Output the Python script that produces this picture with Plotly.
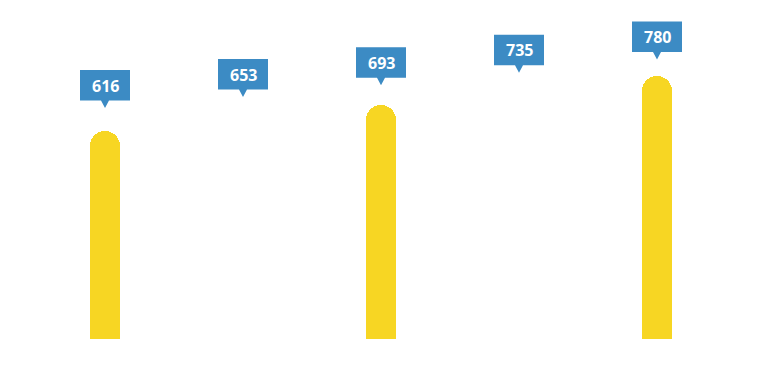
import plotly.graph_objects as go

categories = ["A", "B", "C", "D", "E"]
values = [616, 653, 693, 735, 780]
bar_visible = [True, False, True, False, True]

BAR_COLOR = "#F7D623"
LABEL_BG = "#3C8BC4"
HIDDEN = "rgba(0,0,0,0)"

xpos = list(range(len(categories)))

fig = go.Figure()
fig.add_trace(go.Bar(
    x=xpos, y=values, width=30 / 138,
    marker=dict(color=[BAR_COLOR if v else HIDDEN for v in bar_visible],
                cornerradius=15, line=dict(width=0)),
    hoverinfo="skip", showlegend=False,
))
# invisible helper on the label axis
fig.add_trace(go.Scatter(x=xpos, y=values, yaxis="y2", mode="markers",
                         marker=dict(opacity=0), hoverinfo="skip", showlegend=False))

for xi, v in zip(xpos, values):
    fig.add_shape(
        type="path", xref="x", yref="y2",
        xsizemode="pixel", ysizemode="pixel", xanchor=xi, yanchor=v,
        path="M -25,7.5 L -4,7.5 L 0,0 L 4,7.5 L 25,7.5 L 25,38 L -25,38 Z",
        fillcolor=LABEL_BG, line=dict(width=0), layer="above",
    )
    fig.add_annotation(
        x=xi, y=v, xref="x", yref="y2", yshift=22.5, showarrow=False,
        text=f"<b>{v}</b>", xanchor="center", yanchor="middle",
        font=dict(family="Open Sans", size=16, color="white"),
    )

fig.update_layout(
    width=762, height=368,
    margin=dict(l=36, r=36, t=10, b=29),
    paper_bgcolor="white", plot_bgcolor="white",
    xaxis=dict(range=[-0.5, 4.5], visible=False, showgrid=False, zeroline=False),
    yaxis=dict(range=[0, 974.5], visible=False, showgrid=False, zeroline=False),
    yaxis2=dict(range=[-162.9, 946.7], overlaying="y", visible=False,
                showgrid=False, zeroline=False),
    bargap=0,
)

fig.write_html("out.html")
